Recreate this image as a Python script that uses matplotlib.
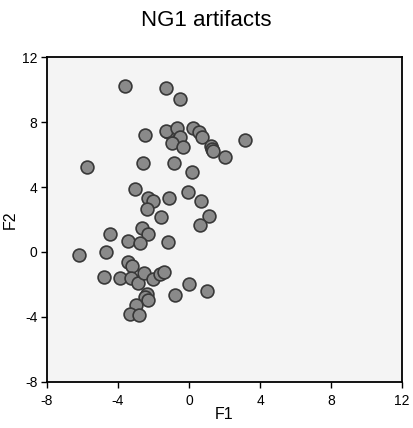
import matplotlib
matplotlib.use("Agg")
import matplotlib.pyplot as plt

plt.rcParams["font.family"] = ["Liberation Sans", "DejaVu Sans"]
plt.rcParams["axes.unicode_minus"] = False

# Puntos (F1, F2)
f1 = [-3.6, -1.3, -0.5, -2.5, -1.2, -1.3, -0.66, -0.5, -0.98, -0.34,
      0.24, 0.55, 0.71, 1.25, 1.3, 1.37, 2.04, 3.15, -5.77, -2.61,
      -0.82, 0.19, -3.06, -2.33, -2.01, -2.35, -1.15, -0.04, 0.69, 1.13,
      0.62, -1.56, -2.65, -2.29, -4.47, -3.46, -2.78, -1.20, -6.18, -4.69,
      -3.43, -3.2, -4.79, -3.91, -3.28, -2.9, -2.52, -2.01, -1.63, -1.41,
      0.02, 1.0, -0.8, -2.38, -2.5, -2.31, -3.0, -3.35, -2.82]
f2 = [10.2, 10.1, 9.4, 7.2, 7.4, 7.45, 7.65, 7.1, 6.7, 6.45,
      7.65, 7.4, 7.05, 6.5, 6.35, 6.2, 5.86, 6.9, 5.21, 5.49,
      5.5, 4.9, 3.87, 3.31, 3.11, 2.65, 3.31, 3.72, 3.11, 2.24,
      1.67, 2.14, 1.46, 1.09, 1.09, 0.70, 0.53, 0.64, -0.16, -0.02,
      -0.60, -0.84, -1.54, -1.58, -1.58, -1.93, -1.31, -1.67, -1.35, -1.22,
      -1.94, -2.37, -2.62, -2.6, -2.75, -2.98, -3.27, -3.79, -3.88]

ticks = [-8, -4, 0, 4, 8, 12]

fig = plt.figure(figsize=(4.13, 4.28), dpi=100)
ax = fig.add_axes([0.1138, 0.1075, 0.8596, 0.7593])
ax.set_facecolor("#f4f4f4")

ax.scatter(f1, f2, s=85, facecolor="#8a8a8a", edgecolor="#383838",
           linewidth=1.2, zorder=3)

ax.set_xlim(-8, 12)
ax.set_ylim(-8, 12)
ax.set_xticks(ticks)
ax.set_yticks(ticks)
ax.tick_params(direction="out", length=4, width=1, labelsize=10)
ax.tick_params(axis="x", pad=5)
ax.tick_params(axis="y", pad=3)
for s in ax.spines.values():
    s.set_linewidth(1.3)

ax.set_xlabel("F1", fontsize=11.5, labelpad=-1)
ax.set_ylabel("F2", fontsize=11.5, labelpad=3)
fig.text(0.5, 0.952, "NG1 artifacts", ha="center", va="center", fontsize=16)

fig.savefig("out.png", dpi=100)
plt.close(fig)
